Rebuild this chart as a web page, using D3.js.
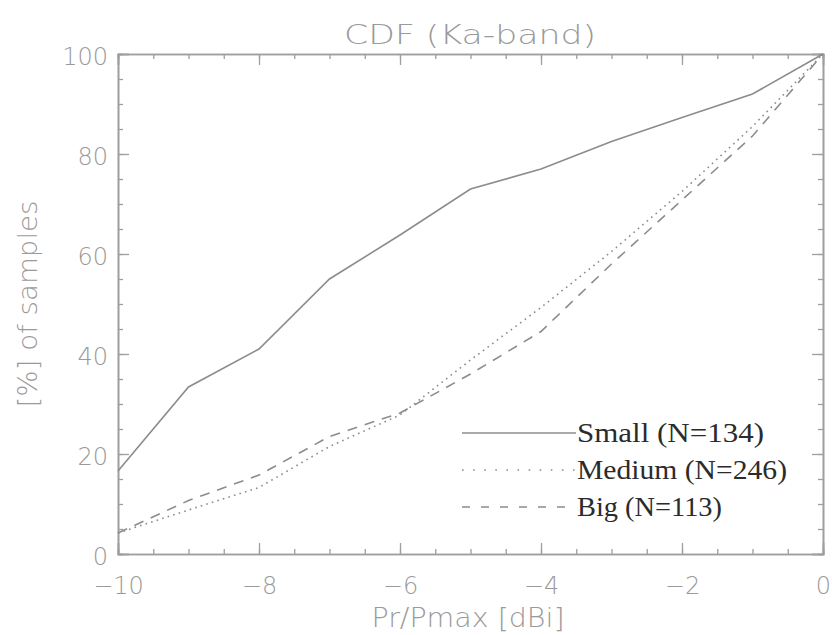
<!DOCTYPE html>
<html>
<head>
<meta charset="utf-8">
<script src="https://cdn.jsdelivr.net/npm/d3@7"></script>
<style>
  body { margin: 0; background: #fff; }
  svg { display: block; }
  .lbl { font-family: "DejaVu Sans", sans-serif; font-weight: 200; fill: #9a9a9a; }
  .leg { font-family: "Liberation Serif", "Times New Roman", serif; fill: #2b2b2b; }
</style>
</head>
<body>
<svg id="chart"></svg>
<script>
// values
var xs = [-10, -9, -8, -7, -6, -5, -4, -3, -2, -1, 0];
var smallPct  = [16.6, 33.4, 41, 55, 63.8, 73, 77, 82.5, 87.3, 92, 100];
var mediumPct = [4.2, 8.8, 13.3, 21.5, 27.8, 38.8, 49.3, 60.5, 72.5, 85.5, 100];
var bigPct    = [4.2, 10.7, 15.8, 23.5, 28.2, 36, 44.5, 58, 70.8, 83.6, 100];
var xMajor = [-10, -8, -6, -4, -2, 0];
var yMajor = [0, 20, 40, 60, 80, 100];
var legendNames = ["Small (N=134)", "Medium (N=246)", "Big (N=113)"];

var width = 832, height = 635;
var svg = d3.select("#chart").attr("width", width).attr("height", height);

var pLeft = 118, pRight = 823, pTop = 54, pBottom = 554;
var x = d3.scaleLinear().domain([-10, 0]).range([pLeft, pRight]);
var y = d3.scaleLinear().domain([0, 100]).range([pBottom, pTop]);

var axisColor = "#9e9e9e";
var lineColor = "#8c8c8c";

var xMinor = d3.range(-10, 0.001, 0.5);
var yMinor = d3.range(0, 100.001, 5);

function styleAxis(g) {
  g.select(".domain").attr("stroke", axisColor).attr("stroke-width", 1.6);
  g.selectAll(".tick line").attr("stroke", axisColor).attr("stroke-width", 1.3);
}

// minor ticks, all four sides
svg.append("g").attr("transform", "translate(0," + pBottom + ")")
  .call(d3.axisBottom(x).tickValues(xMinor).tickSize(-5).tickFormat("")).call(styleAxis);
svg.append("g").attr("transform", "translate(0," + pTop + ")")
  .call(d3.axisTop(x).tickValues(xMinor).tickSize(-5).tickFormat("")).call(styleAxis);
svg.append("g").attr("transform", "translate(" + pLeft + ",0)")
  .call(d3.axisLeft(y).tickValues(yMinor).tickSize(-5).tickFormat("")).call(styleAxis);
svg.append("g").attr("transform", "translate(" + pRight + ",0)")
  .call(d3.axisRight(y).tickValues(yMinor).tickSize(-5).tickFormat("")).call(styleAxis);

// major ticks
var gx = svg.append("g").attr("transform", "translate(0," + pBottom + ")")
  .call(d3.axisBottom(x).tickValues(xMajor).tickSize(-11).tickPadding(23).tickFormat(d3.format("d")))
  .call(styleAxis);
svg.append("g").attr("transform", "translate(0," + pTop + ")")
  .call(d3.axisTop(x).tickValues(xMajor).tickSize(-11).tickFormat("")).call(styleAxis);
var gy = svg.append("g").attr("transform", "translate(" + pLeft + ",0)")
  .call(d3.axisLeft(y).tickValues(yMajor).tickSize(-11).tickPadding(10))
  .call(styleAxis);
svg.append("g").attr("transform", "translate(" + pRight + ",0)")
  .call(d3.axisRight(y).tickValues(yMajor).tickSize(-11).tickFormat("")).call(styleAxis);

[gx, gy].forEach(function(g) {
  g.attr("font-family", null).attr("font-size", null);
  g.selectAll(".tick text").attr("class", "lbl").attr("font-size", 24).attr("fill", "#9a9a9a");
});
gy.selectAll(".tick text").attr("dy", "0.45em");

// curves
var line = d3.line().x(function(d) { return x(d[0]); }).y(function(d) { return y(d[1]); });
var series = [
  { vals: smallPct, dash: null, legDash: null },
  { vals: mediumPct, dash: "1.6,4.2", legDash: "1.6,9.5" },
  { vals: bigPct, dash: "10,8", legDash: "8,11" }
];
series.forEach(function(s) {
  svg.append("path")
    .datum(xs.map(function(v, i) { return [v, s.vals[i]]; }))
    .attr("fill", "none")
    .attr("stroke", lineColor)
    .attr("stroke-width", 1.6)
    .attr("stroke-dasharray", s.dash)
    .attr("d", line);
});

// titles
svg.append("text").attr("class", "lbl").attr("x", 470).attr("y", 44)
  .attr("text-anchor", "middle").attr("font-size", 27)
  .attr("textLength", 252).attr("lengthAdjust", "spacingAndGlyphs")
  .text("CDF (Ka-band)");
svg.append("text").attr("class", "lbl").attr("x", 468).attr("y", 627)
  .attr("text-anchor", "middle").attr("font-size", 26)
  .attr("textLength", 193).attr("lengthAdjust", "spacingAndGlyphs")
  .text("Pr/Pmax [dBi]");
svg.append("text").attr("class", "lbl")
  .attr("transform", "translate(37," + ((pTop + pBottom) / 2) + ") rotate(-90)")
  .attr("text-anchor", "middle").attr("font-size", 26)
  .attr("textLength", 207).attr("lengthAdjust", "spacingAndGlyphs")
  .text("[%] of samples");

// legend
var legWidths = [187, 210, 145];
var legend = svg.append("g");
legendNames.forEach(function(name, i) {
  var ly = 433 + i * 37;
  legend.append("line")
    .attr("x1", 462).attr("x2", 576).attr("y1", ly).attr("y2", ly)
    .attr("stroke", lineColor).attr("stroke-width", 1.6)
    .attr("stroke-dasharray", series[i].legDash);
  legend.append("text").attr("class", "leg")
    .attr("x", 577).attr("y", ly + 9)
    .attr("font-size", 27)
    .attr("textLength", legWidths[i]).attr("lengthAdjust", "spacingAndGlyphs")
    .text(name);
});
</script>
</body>
</html>
